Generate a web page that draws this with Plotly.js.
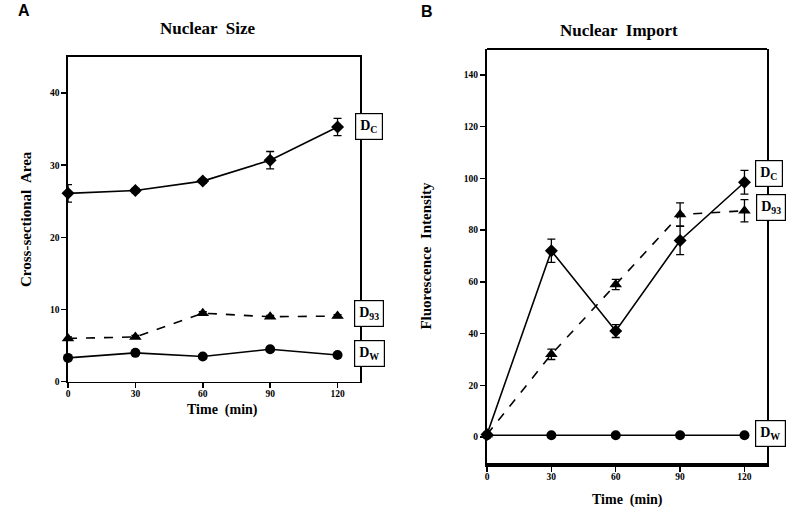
<!DOCTYPE html>
<html>
<head>
<meta charset="utf-8">
<script src="https://cdn.plot.ly/plotly-3.0.1.min.js"></script>
<style>html,body{margin:0;padding:0;background:#fff;}#chart{width:800px;height:512px;}</style>
</head>
<body>
<div id="chart"></div>
<script>
// ---- data ----
const time = [0, 30, 60, 90, 120];
const timeTicks = [0, 30, 60, 90, 120];

// Panel A: Nuclear Size (cross-sectional area)
const sizeDC = [26.1, 26.5, 27.8, 30.7, 35.3];
const sizeDCerr = [1.2, 0.3, 0.3, 1.2, 1.2];
const sizeD93 = [6.0, 6.2, 9.5, 9.0, 9.1];
const sizeD93err = [0.2, 0.2, 0.2, 0.2, 0.2];
const sizeDW = [3.3, 4.0, 3.5, 4.5, 3.7];
const sizeDWerr = [0.2, 0.2, 0.2, 0.2, 0.2];
const sizeTicks = [0, 10, 20, 30, 40];

// Panel B: Nuclear Import (fluorescence intensity)
const importDC = [1, 72, 41, 76, 98.5];
const importDCerr = [0, 4.5, 2.5, 5.5, 4.6];
const importD93 = [1, 32, 59, 86, 87.5];
const importD93err = [0, 2, 2, 4.5, 4.3];
const importDW = [0.7, 0.7, 0.7, 0.7, 0.7];
const importTicks = [0, 20, 40, 60, 80, 100, 120, 140];

const seriesLabels = ['D<sub>C</sub>', 'D<sub>93</sub>', 'D<sub>W</sub>'];

// ---- styling ----
const serif = 'Liberation Serif, Times New Roman, serif';
const black = '#000';

function trace(x, y, err, sym, size, dash, xa, ya) {
  const t = {
    x: x, y: y, xaxis: xa, yaxis: ya, type: 'scatter', mode: 'lines+markers',
    line: {color: black, width: 1.6, dash: dash},
    marker: {color: black, symbol: sym, size: size},
    cliponaxis: false, showlegend: false, hoverinfo: 'x+y'
  };
  if (err) t.error_y = {type: 'data', array: err, visible: true, color: black, thickness: 1.3, width: 4};
  return t;
}

const data = [
  trace(time, sizeDC, sizeDCerr, 'diamond', 10, 'solid', 'x', 'y'),
  trace(time, sizeD93, sizeD93err, 'triangle-up', 11, 'dash', 'x', 'y'),
  trace(time, sizeDW, sizeDWerr, 'circle', 10, 'solid', 'x', 'y'),
  trace(time, importDC, importDCerr, 'diamond', 10, 'solid', 'x2', 'y2'),
  trace(time, importD93, importD93err, 'triangle-up', 11, 'dash', 'x2', 'y2'),
  trace(time, importDW, null, 'circle', 10, 'solid', 'x2', 'y2')
];

const tickFont = {family: serif, size: 9.5, color: black, weight: 'bold'};
const titleFont = {family: serif, size: 15, color: black, weight: 'bold'};

const axA = {showgrid: false, zeroline: false, showline: true, linecolor: black, ticks: 'outside', ticklen: 5, tickwidth: 1.5, tickcolor: black, tickfont: tickFont};

function paperText(text, px, py, size, family) {
  return {text: text, x: px / 800, y: 1 - py / 512, xref: 'paper', yref: 'paper', xanchor: 'center', yanchor: 'middle',
          showarrow: false, font: {family: family || serif, size: size, color: black, weight: 'bold'}};
}

const layout = {
  width: 800, height: 512,
  margin: {l: 0, r: 0, t: 0, b: 0},
  paper_bgcolor: '#fff', plot_bgcolor: '#fff',
  showlegend: false,
  xaxis: Object.assign({}, axA, {
    domain: [68 / 800, 360 / 800], range: [0, 130], tickvals: timeTicks,
    linewidth: 1.6, mirror: true, anchor: 'y', ticklabelstandoff: -3
  }),
  yaxis: Object.assign({}, axA, {
    domain: [1 - 381.7 / 512, 1 - 57 / 512], range: [0, 45], tickvals: sizeTicks,
    linewidth: 1.6, mirror: true, anchor: 'x',
    title: {text: 'Cross-sectional  Area', font: titleFont, standoff: 15}
  }),
  xaxis2: Object.assign({}, axA, {
    domain: [487 / 800, 767 / 800], range: [0, 130.5], tickvals: timeTicks,
    linewidth: 4, mirror: false, anchor: 'y2', ticklabelstandoff: -3
  }),
  yaxis2: Object.assign({}, axA, {
    domain: [1 - 463 / 512, 1 - 49 / 512], range: [-10, 150], tickvals: importTicks,
    linewidth: 2, mirror: true, anchor: 'x2',
    title: {text: 'Fluorescence  Intensity', font: titleFont, standoff: 29}
  }),
  annotations: [
    paperText('A', 24, 10, 16, 'Liberation Sans, Arial, sans-serif'),
    paperText('B', 427, 11, 16, 'Liberation Sans, Arial, sans-serif'),
    paperText('Nuclear  Size', 208, 28, 17),
    paperText('Nuclear  Import', 619, 30, 17),
    paperText('Time  (min)', 222, 410, 14),
    paperText('Time  (min)', 627, 500, 14)
  ],
  shapes: [
    // top frame line for panel B (bottom axis line is thicker)
    {type: 'line', xref: 'paper', yref: 'paper', x0: 487 / 800, x1: 767 / 800, y0: 1 - 49 / 512, y1: 1 - 49 / 512, line: {color: black, width: 2}}
  ]
};

function labelBox(text, yval, xPaper, yref, yshift) {
  return {
    text: text, x: xPaper, xref: 'paper', y: yval, yref: yref, yshift: yshift,
    xanchor: 'left', yanchor: 'middle', showarrow: false,
    font: {family: serif, size: 14, color: black, weight: 'bold'},
    bgcolor: '#fff', bordercolor: black, borderwidth: 1.2, borderpad: 4
  };
}
layout.annotations.push(
  labelBox(seriesLabels[0], sizeDC[4], 355 / 800, 'y', 0),
  labelBox(seriesLabels[1], sizeD93[4], 354 / 800, 'y', 3),
  labelBox(seriesLabels[2], sizeDW[4], 354 / 800, 'y', 2),
  labelBox(seriesLabels[0], importDC[4], 755 / 800, 'y2', 9),
  labelBox(seriesLabels[1], importD93[4], 756 / 800, 'y2', 3),
  labelBox(seriesLabels[2], importDW[4], 755 / 800, 'y2', 2)
);

Plotly.newPlot('chart', data, layout, {displayModeBar: false, staticPlot: true});
</script>
</body>
</html>
